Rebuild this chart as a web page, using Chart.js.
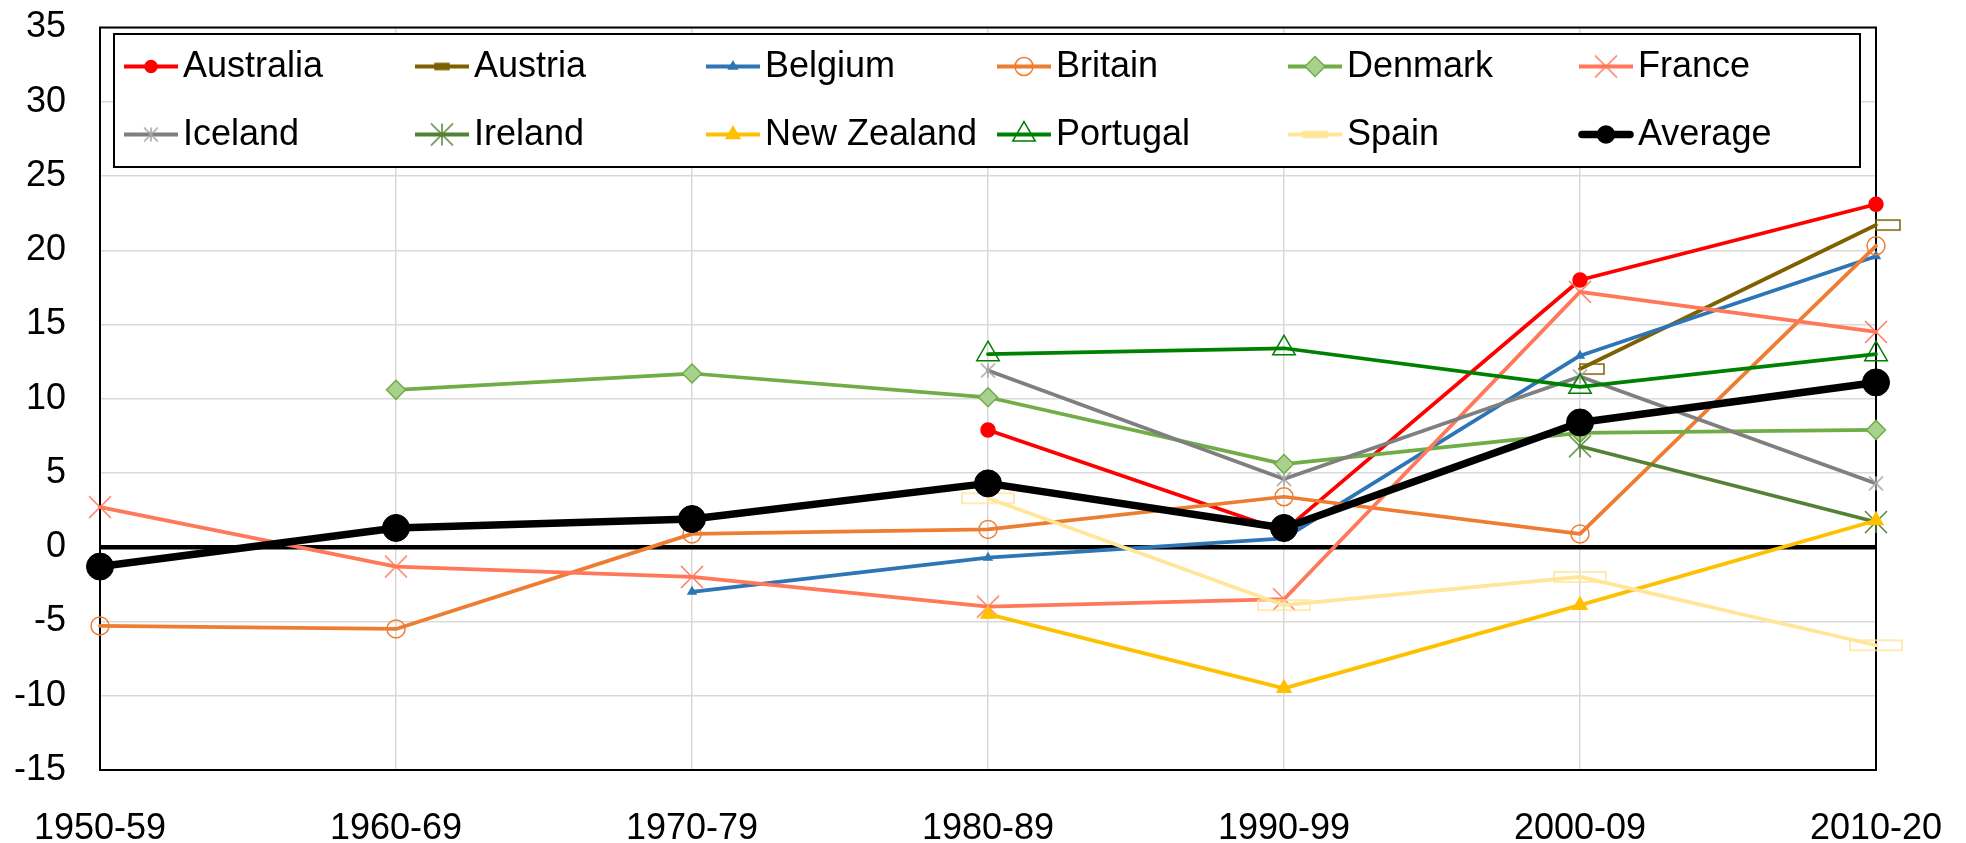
<!DOCTYPE html>
<html>
<head>
<meta charset="utf-8">
<script src="https://cdn.jsdelivr.net/npm/chart.js@4.4.1/dist/chart.umd.min.js"></script>
<style>
  html, body { margin: 0; padding: 0; background: #ffffff; overflow: hidden; }
  #wrap { width: 1966px; height: 843px; position: relative; }
</style>
</head>
<body>
<div id="wrap"><canvas id="chart" width="1966" height="843"></canvas></div>
<script>
// ---- data -------------------------------------------------------------
const decades = ['1950-59', '1960-69', '1970-79', '1980-89', '1990-99', '2000-09', '2010-20'];

const australia  = [null, null, null, 7.9, 1.1, 18.0, 23.1];
const austria    = [null, null, null, null, null, 12.0, 21.7];
const belgium    = [null, null, -3.0, -0.7, 0.6, 12.9, 19.6];
const britain    = [-5.3, -5.5, 0.9, 1.2, 3.4, 0.9, 20.3];
const denmark    = [null, 10.6, 11.7, 10.1, 5.6, 7.7, 7.9];
const france     = [2.7, -1.3, -2.0, -4.0, -3.5, 17.2, 14.5];
const iceland    = [null, null, null, 11.9, 4.6, 11.5, 4.3];
const ireland    = [null, null, null, null, null, 6.8, 1.7];
const newZealand = [null, null, null, -4.5, -9.5, -3.9, 1.8];
const portugal   = [null, null, null, 13.0, 13.4, 10.8, 13.0];
const spain      = [null, null, null, 3.3, -3.9, -2.0, -6.6];
const average    = [-1.3, 1.3, 1.9, 4.3, 1.3, 8.4, 11.1];

const seriesNames = ['Australia', 'Austria', 'Belgium', 'Britain', 'Denmark', 'France',
                     'Iceland', 'Ireland', 'New Zealand', 'Portugal', 'Spain', 'Average'];
const seriesValues = [australia, austria, belgium, britain, denmark, france,
                      iceland, ireland, newZealand, portugal, spain, average];

const yMin = -15, yMax = 35, yStep = 5;

// ---- marker images ----------------------------------------------------
function makeMark(w, h, paint) {
  const c = document.createElement('canvas');
  c.width = w; c.height = h;
  const g = c.getContext('2d');
  paint(g, w, h);
  return c;
}
// hollow bar whose left edge sits on the point
function offsetBar(color, bw, bh) {
  return makeMark(2 * (bw + 2), bh + 4, (g, w, h) => {
    g.strokeStyle = color; g.lineWidth = 1.5;
    g.strokeRect(w / 2, 2, bw, bh);
  });
}
// hollow bar centred on the point
function centerBar(color, bw, bh, fill) {
  return makeMark(bw + 4, bh + 4, (g, w, h) => {
    if (fill) { g.fillStyle = fill; g.fillRect(2, 2, bw, bh); }
    g.strokeStyle = color; g.lineWidth = 1.5;
    g.strokeRect(2, 2, bw, bh);
  });
}
// "x" marker
function xMark(color, half) {
  const s = 2 * half + 4;
  return makeMark(s, s, (g) => {
    const c = s / 2;
    g.strokeStyle = color; g.lineWidth = 1.5;
    g.beginPath();
    g.moveTo(c - half, c - half); g.lineTo(c + half, c + half);
    g.moveTo(c - half, c + half); g.lineTo(c + half, c - half);
    g.stroke();
  });
}
// "*" marker: an x plus a vertical stroke
function starMark(color, half) {
  const s = 2 * half + 4;
  return makeMark(s, s, (g) => {
    const c = s / 2;
    g.strokeStyle = color; g.lineWidth = 1.5;
    g.beginPath();
    g.moveTo(c - half, c - half); g.lineTo(c + half, c + half);
    g.moveTo(c - half, c + half); g.lineTo(c + half, c - half);
    g.moveTo(c, c - half); g.lineTo(c, c + half);
    g.stroke();
  });
}

const NONE = 'rgba(0,0,0,0)';

// ---- series styling ---------------------------------------------------
const seriesStyles = [
  { line: '#FF0000', mark: '#FF0000', fill: '#FF0000', point: 'circle',   r: 7,    lr: 6 },
  { line: '#7F6000', mark: '#7F6000', fill: NONE, point: offsetBar('#7F6000', 24, 10), r: 12,
    legendPoint: centerBar('#7F6000', 14, 6, '#7F6000'), lr: 8 },
  { line: '#2E75B6', mark: '#2E75B6', fill: '#2E75B6', point: 'triangle', r: 4.5,  lr: 5 },
  { line: '#ED7D31', mark: '#ED7D31', fill: NONE,      point: 'circle',   r: 9,    lr: 9 },
  { line: '#70AD47', mark: '#70AD47', fill: '#A9D18E', point: 'rectRot',  r: 9.5,  lr: 10 },
  { line: '#FF785A', mark: '#FF785A', fill: NONE, point: xMark('#FF785A', 11), r: 11, lr: 11 },
  { line: '#7F7F7F', mark: '#A5A5A5', fill: NONE, point: starMark('#A5A5A5', 7), r: 7, lr: 7 },
  { line: '#548235', mark: '#548235', fill: NONE, point: starMark('#548235', 11), r: 11, lr: 11 },
  { line: '#FFC000', mark: '#FFC000', fill: '#FFC000', point: 'triangle', r: 8,    lr: 8 },
  { line: '#008000', mark: '#008000', fill: NONE,      point: 'triangle', r: 13,   lr: 13 },
  { line: '#FFE699', mark: '#FFE699', fill: NONE, point: centerBar('#FFE699', 52, 10), r: 26,
    legendPoint: centerBar('#FFE699', 24, 6, '#FFE699'), lr: 12 },
  { line: '#000000', mark: '#000000', fill: '#000000', point: 'circle',   r: 13.5, lr: 8.5, heavy: true }
];

const FONT = "'Liberation Sans', Arial, sans-serif";

const datasets = seriesNames.map((name, i) => {
  const st = seriesStyles[i];
  return {
    label: name,
    data: seriesValues[i],
    borderColor: st.line,
    borderWidth: st.heavy ? 7.5 : 3.75,
    borderJoinStyle: 'round',
    borderCapStyle: 'round',
    pointStyle: st.point,
    pointRadius: st.r,
    pointBorderColor: st.mark,
    pointBackgroundColor: st.fill,
    pointBorderWidth: st.heavy ? 1 : 1.5,
    tension: 0,
    spanGaps: false,
    clip: false,
    order: seriesNames.length - 1 - i
  };
});

// ---- plugins ----------------------------------------------------------
const plotFrame = {
  id: 'plotFrame',
  beforeDatasetsDraw(chart) {
    const { ctx, chartArea: a } = chart;
    ctx.save();
    ctx.strokeStyle = '#000';
    ctx.lineWidth = 2;
    ctx.strokeRect(a.left, a.top, a.right - a.left, a.bottom - a.top);
    ctx.restore();
  }
};

const boxedLegend = {
  id: 'boxedLegend',
  afterDraw(chart) {
    const { ctx } = chart;
    const box = { left: 114, top: 34, right: 1860, bottom: 167 };
    ctx.save();
    ctx.fillStyle = '#fff';
    ctx.fillRect(box.left, box.top, box.right - box.left, box.bottom - box.top);
    ctx.strokeStyle = '#000';
    ctx.lineWidth = 2;
    ctx.strokeRect(box.left, box.top, box.right - box.left, box.bottom - box.top);

    const colX0 = 124, colStep = 291, rowY = [66.5, 134.5], sample = 54;
    seriesNames.forEach((name, i) => {
      const st = seriesStyles[i];
      const x0 = colX0 + (i % 6) * colStep;
      const y = rowY[Math.floor(i / 6)];
      ctx.strokeStyle = st.line;
      ctx.lineWidth = st.heavy ? 7.5 : 4;
      ctx.lineCap = st.heavy ? 'round' : 'butt';
      ctx.beginPath();
      ctx.moveTo(x0 + (st.heavy ? 3 : 0), y);
      ctx.lineTo(x0 + sample - (st.heavy ? 3 : 0), y);
      ctx.stroke();

      ctx.fillStyle = st.fill;
      ctx.strokeStyle = st.mark;
      ctx.lineWidth = 1.5;
      Chart.helpers.drawPoint(ctx, {
        pointStyle: st.legendPoint || st.point,
        radius: st.lr,
        borderWidth: 1.5,
        rotation: 0
      }, x0 + sample / 2, y);

      ctx.fillStyle = '#000';
      ctx.font = '36px ' + FONT;
      ctx.textAlign = 'left';
      ctx.textBaseline = 'middle';
      ctx.fillText(name, x0 + sample + 5, y + 1);
    });
    ctx.restore();
  }
};

// ---- chart ------------------------------------------------------------
new Chart(document.getElementById('chart'), {
  type: 'line',
  data: { labels: decades, datasets },
  plugins: [plotFrame, boxedLegend],
  options: {
    responsive: false,
    animation: false,
    devicePixelRatio: 1,
    layout: { padding: { top: 22, right: 90, left: 0, bottom: 0 } },
    plugins: { legend: { display: false }, tooltip: { enabled: false } },
    scales: {
      x: {
        type: 'category',
        offset: false,
        afterFit(scale) {
          scale.height = 73;
          scale.paddingLeft = 0; scale.paddingRight = 0;
        },
        border: { display: false },
        grid: { color: '#D9D9D9', lineWidth: 1.5, drawTicks: false },
        ticks: {
          color: '#000', padding: 37.5, maxRotation: 0, autoSkip: false,
          font: { family: FONT, size: 36 }
        }
      },
      y: {
        min: yMin, max: yMax,
        afterFit(scale) {
          scale.width = 100;
          scale.paddingTop = 0; scale.paddingBottom = 0;
        },
        border: { display: false },
        grid: {
          drawTicks: false,
          color: (c) => (c.tick && c.tick.value === 0) ? '#000' : '#D9D9D9',
          lineWidth: (c) => (c.tick && c.tick.value === 0) ? 4.5 : 1.5
        },
        ticks: {
          stepSize: yStep, color: '#000', padding: 34,
          font: { family: FONT, size: 36, lineHeight: 1 }
        }
      }
    }
  }
});
</script>
</body>
</html>
